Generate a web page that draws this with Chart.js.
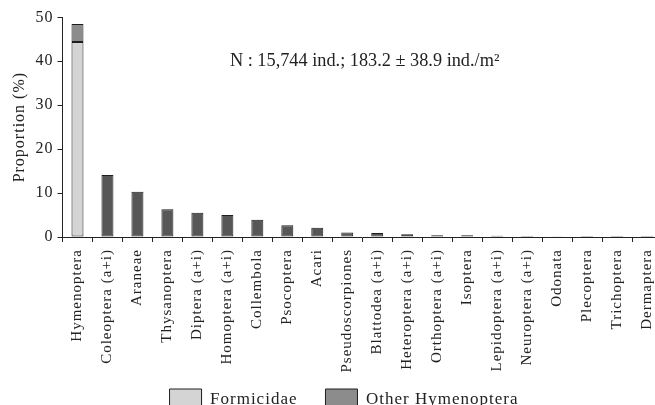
<!DOCTYPE html>
<html><head><meta charset="utf-8">
<script src="https://cdn.jsdelivr.net/npm/chart.js@4.4.0/dist/chart.umd.min.js"></script>
<style>html,body{margin:0;padding:0;overflow:hidden;background:#fff}#wrap{width:712px;height:439px;position:relative}</style>
</head><body><div id="wrap"><canvas id="c"></canvas></div>
<script>
const categories = ["Hymenoptera","Coleoptera (a+i)","Araneae","Thysanoptera","Diptera (a+i)","Homoptera (a+i)","Collembola","Psocoptera","Acari","Pseudoscorpiones","Blattodea (a+i)","Heteroptera (a+i)","Orthoptera (a+i)","Isoptera","Lepidoptera (a+i)","Neuroptera (a+i)","Odonata","Plecoptera","Trichoptera","Dermaptera"];
const formicidae = [44.4,null,null,null,null,null,null,null,null,null,null,null,null,null,null,null,null,null,null,null];
const otherHymenoptera = [4.1,null,null,null,null,null,null,null,null,null,null,null,null,null,null,null,null,null,null,null];
const otherOrders = [null,14.1,10.3,6.3,5.5,5.0,3.9,2.7,2.1,1.0,0.9,0.6,0.4,0.4,0.3,0.2,0.15,0.01,0.01,0.01];
const yTicks = [0,10,20,30,40,50];
const seriesNames = ["Formicidae","Other Hymenoptera","Other orders"];
const noteText = "N : 15,744 ind.; 183.2 \u00B1 38.9 ind./m\u00B2";

const FONT = '"Liberation Serif", "Times New Roman", serif';
const INK = '#222';

const textPlugin = {
  id: 'textPlugin',
  beforeLayout(chart){ chart.ctx.letterSpacing = '1px'; },
  afterLayout(chart){
    const lg = chart.legend;
    if (lg) {
      const h = lg.bottom - lg.top;
      lg.top = chart.chartArea.bottom + 124;
      lg.bottom = lg.top + h;
      lg.left += 26;
    }
  },
  beforeDraw(chart){ chart.ctx.letterSpacing = '1px'; },
  afterDraw(chart){
    const {ctx, chartArea: a} = chart;
    ctx.save();
    ctx.letterSpacing = '0px';
    ctx.font = '18.3px ' + FONT;
    ctx.fillStyle = INK;
    ctx.textAlign = 'center';
    ctx.textBaseline = 'middle';
    ctx.fillText(noteText, a.left + (a.right - a.left) * 0.504, chart.scales.y.getPixelForValue(40.1));
    ctx.restore();
  }
};

new Chart(document.getElementById('c'), {
  type: 'bar',
  data: {
    labels: categories,
    datasets: [
      {label: seriesNames[0], data: formicidae, backgroundColor: '#d4d4d4', borderColor: '#1e1e1e', borderWidth: 1, borderSkipped: false},
      {label: seriesNames[1], data: otherHymenoptera, backgroundColor: '#8c8c8c', borderColor: '#1e1e1e', borderWidth: 1, borderSkipped: false},
      {label: seriesNames[2], data: otherOrders, backgroundColor: '#575757', borderColor: '#1e1e1e', borderWidth: 1, borderSkipped: false}
    ]
  },
  options: {
    responsive: true,
    maintainAspectRatio: false,
    animation: false,
    events: [],
    layout: {padding: {top: 17.3, right: 50, left: 0, bottom: 0}},
    datasets: {bar: {barPercentage: 0.4, categoryPercentage: 1.0, grouped: false}},
    scales: {
      x: {
        stacked: true,
        afterFit: s => { s.height = 142; },
        grid: {drawOnChartArea: false, drawTicks: true, tickLength: 5, color: INK, offset: true},
        border: {color: INK, width: 1},
        ticks: {autoSkip: false, maxRotation: 90, minRotation: 90, padding: 7, color: INK, font: {family: FONT, size: 15}}
      },
      y: {
        stacked: true,
        min: 0, max: 50,
        afterFit: s => { s.width = 62.5; },
        afterBuildTicks: s => { s.ticks = yTicks.map(v => ({value: v})); },
        grid: {drawOnChartArea: false, drawTicks: true, tickLength: 5, color: INK},
        border: {color: INK, width: 1},
        ticks: {padding: 4, color: INK, font: {family: FONT, size: 16}},
        title: {display: true, text: 'Proportion (%)', color: INK, font: {family: FONT, size: 16}, padding: {top: 10, bottom: 0}}
      }
    },
    plugins: {
      tooltip: {enabled: false},
      legend: {
        position: 'bottom',
        labels: {
          filter: item => item.datasetIndex < 2,
          boxWidth: 32, boxHeight: 22, padding: 28,
          color: INK, font: {family: FONT, size: 17}
        }
      }
    }
  },
  plugins: [textPlugin]
});
</script>
</body></html>
